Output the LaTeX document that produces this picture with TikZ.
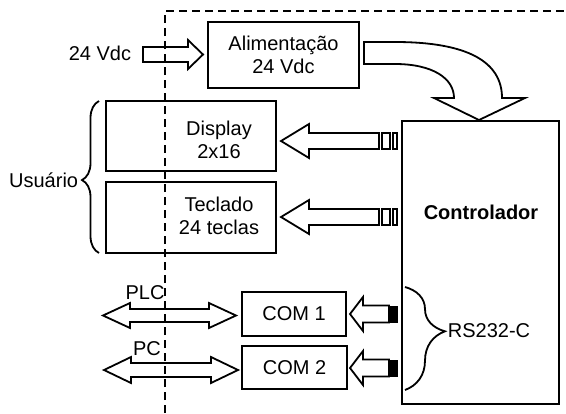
\documentclass[tikz,border=0pt]{standalone}
\usepackage{fontspec}
\setmainfont{Liberation Sans}
\usetikzlibrary{decorations.pathreplacing}
\begin{document}
\begin{tikzpicture}[x=0.5pt,y=-0.5pt,line width=0.9pt,
  every node/.style={font=\fontsize{10}{11.5}\selectfont, align=center},
  box/.style={draw, inner sep=0pt},
  blk/.style={draw, line join=miter},
  dashline/.style={draw, dash pattern=on 4pt off 2.5pt}]
\useasboundingbox (0,0) rectangle (566,413);
% dashed boundary
\coordinate (dB) at (165,413);
\coordinate (dC) at (165,11);
\coordinate (dR) at (566,11);
\path[dashline] (dB) -- (dC) -- (dR);
% boxes
\node[box, minimum width=75.5pt, minimum height=33pt] (alim) at (283.5,55) {Alimentação\\24 Vdc};
\node[box, minimum width=85pt, minimum height=35pt] (disp) at (191,136) {};
\node (dispt) at (219,140) {Display\\2x16};
\node[box, minimum width=85pt, minimum height=35.5pt] (tecl) at (191,217.5) {};
\node (teclt) at (219,216) {Teclado\\24 teclas};
\node[box, minimum width=78.5pt, minimum height=141.5pt] (ctrl) at (480.5,262.5) {};
\node[font=\fontsize{10}{11.5}\selectfont\bfseries] (ctrlt) at (481,212) {Controlador};
\node[box, minimum width=52pt, minimum height=22pt] (com1) at (294,314) {COM 1};
\node[box, minimum width=52.5pt, minimum height=21.5pt] (com2) at (294.5,367.5) {COM 2};
% labels
\node[anchor=east, inner sep=0pt] (vin) at (132,53) {24 Vdc};
\node[anchor=east, inner sep=0pt] (usr) at (79,180) {Usuário};
\node[anchor=west, inner sep=0pt] (rs) at (447,331) {RS232-C};
\node (plc) at (145,293) {PLC};
\node (pc) at (147,349) {PC};
% 24 Vdc input arrow
\draw[blk] (143,47) -- (188,47) -- (188,40) -- (203,54.5) -- (188,69) -- (188,62) -- (143,62) -- cycle;
% curved power arrow
\draw[blk] (364,42) -- (395,42) .. controls (468,42) and (502,62) .. (502,98)
  -- (525,98) -- (479,120) -- (434,98) -- (454,98)
  .. controls (454,78) and (432,64) .. (395,64) -- (364,64) -- cycle;
% display arrow
\draw[blk] (281,141) -- (309,124) -- (309,133) -- (379,133) -- (379,149) -- (309,149) -- (309,158) -- cycle;
\draw (382,133) rectangle (390,149);
\draw (393,133) rectangle (397,149);
% keyboard arrow
\draw[blk] (281,217) -- (309,200) -- (309,209) -- (379,209) -- (379,225) -- (309,225) -- (309,234) -- cycle;
\draw (382,209) rectangle (390,225);
\draw (393,209) rectangle (397,225);
% COM arrows
\draw[blk] (350,314) -- (363,297) -- (363,305.5) -- (389,305.5) -- (389,322.5) -- (363,322.5) -- (363,331) -- cycle;
\fill (389,305.5) rectangle (398,322.5);
\draw[blk] (350,368) -- (363,351) -- (363,359.5) -- (389,359.5) -- (389,376.5) -- (363,376.5) -- (363,385) -- cycle;
\fill (389,359.5) rectangle (398,376.5);
% double arrows
\draw[blk] (103,315.5) -- (130,303) -- (130,309) -- (209,309) -- (209,303) -- (236,315.5)
  -- (209,328) -- (209,322) -- (130,322) -- (130,328) -- cycle;
\draw[blk] (104,370) -- (131,357) -- (131,363) -- (211,363) -- (211,357) -- (238,370)
  -- (211,383) -- (211,377) -- (131,377) -- (131,383) -- cycle;
% braces
\draw[decorate, decoration={brace, amplitude=8.5pt, aspect=0.48}] (99,253) -- (99,101);
\draw[decorate, decoration={brace, amplitude=20pt, aspect=0.43}] (405,287) -- (405,390);
\end{tikzpicture}
\end{document}
